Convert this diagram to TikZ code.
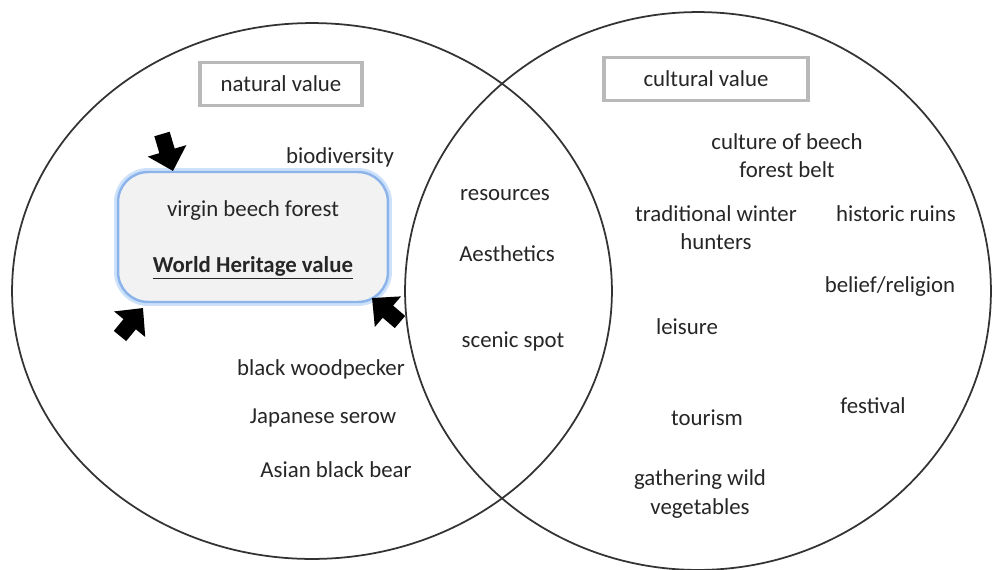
\documentclass[tikz,border=0pt]{standalone}
\usepackage{fontspec}
\setmainfont{Carlito}
\usetikzlibrary{arrows.meta}
\definecolor{glowblue}{RGB}{140,180,235}
\definecolor{glowpale}{RGB}{205,225,250}
\begin{document}
\begin{tikzpicture}[
        x=0.02cm, y=-0.02cm,
        every node/.style={font=\fontsize{13}{16}\selectfont, text=black!85},
        item/.style={align=center},
        valuebox/.style={draw=gray!55, line width=2.2pt, minimum height=0.86cm, inner sep=2pt},
        heritage/.style={draw=glowblue, line width=1.4pt, fill=gray!10, rounded corners=0.6cm, minimum width=5.4cm, minimum height=2.6cm, preaction={draw=glowpale, line width=4.5pt}},
        venn/.style={draw=black!80, line width=1pt},
        bigarrow/.style={line width=0.32cm, -{Triangle[width=0.78cm, length=0.42cm]}, draw=black, fill=black}
    ]
        % Canvas
        \fill[white] (0,0) rectangle (992,569);
        \useasboundingbox (0,0) rectangle (992,569);

        % Venn circles
        \draw[venn] (312,291) ellipse [x radius=6cm, y radius=5.36cm];
        \draw[venn] (698,291) ellipse [x radius=5.86cm, y radius=5.58cm];

        % Headings
        \node[valuebox, minimum width=3.24cm] (natural) at (281,84) {natural value};
        \node[valuebox, minimum width=4.08cm] (cultural) at (706,79) {cultural value};

        % World Heritage box
        \node[heritage] (wh) at (253,237) {};
        \node[item] (virgin) at (253,211) {virgin beech forest};
        \node[item] (whvalue) at (253,268) {\textbf{\underline{World Heritage value}}};

        % Arrows onto the box
        \coordinate (topTail) at (162,134);
        \coordinate (topTip) at (173,171);
        \coordinate (leftTail) at (120,336);
        \coordinate (leftTip) at (143,308);
        \coordinate (rightTail) at (400,322);
        \coordinate (rightTip) at (372,298);
        \draw[bigarrow] (topTail) -- (topTip);
        \draw[bigarrow] (leftTail) -- (leftTip);
        \draw[bigarrow] (rightTail) -- (rightTip);

        % Natural side
        \node[item] (biodiversity) at (340,157) {biodiversity};
        \node[item] (woodpecker) at (321,369) {black woodpecker};
        \node[item] (serow) at (323,418) {Japanese serow};
        \node[item] (bear) at (336,470) {Asian black bear};

        % Overlap
        \node[item] (resources) at (505,195) {resources};
        \node[item] (aesthetics) at (507,254) {Aesthetics};
        \node[item] (scenic) at (513,341) {scenic spot};

        % Cultural side
        \node[item] (beechbelt) at (787,156) {culture of beech\\forest belt};
        \node[item] (hunters) at (716,228) {traditional winter\\hunters};
        \node[item] (ruins) at (896,214) {historic ruins};
        \node[item] (religion) at (890,287) {belief/religion};
        \node[item] (leisure) at (687,327) {leisure};
        \node[item] (festival) at (873,406) {festival};
        \node[item] (tourism) at (707,418) {tourism};
        \node[item] (vegetables) at (700,494) {gathering wild\\vegetables};
    \end{tikzpicture}
\end{document}
